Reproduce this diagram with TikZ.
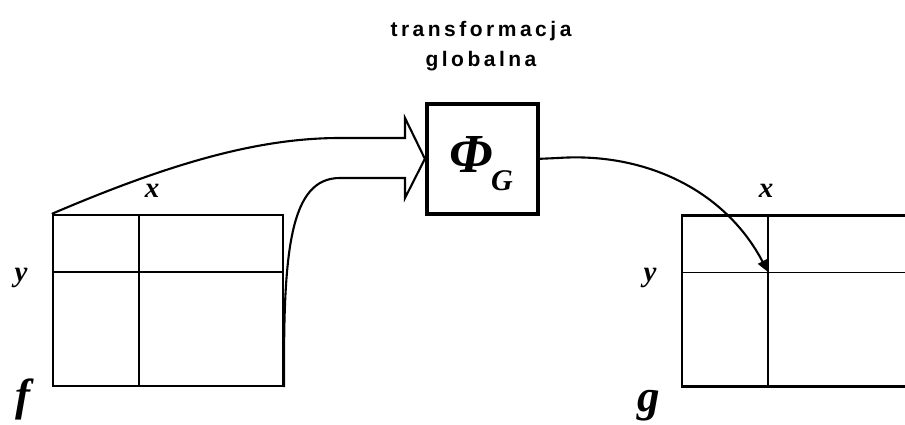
\documentclass[tikz,border=0pt]{standalone}
\usepackage{fontspec}
\newfontfamily\labfont{Liberation Serif}
\newfontfamily\titlefont[BoldFont={Liberation Sans Bold}]{Liberation Sans}
\newcommand\lsp{\hspace{3.5pt}}
\usetikzlibrary{arrows.meta}
\begin{document}
\begin{tikzpicture}[x=1pt,y=-1pt,
  gridbox/.style={draw,line width=2.3pt,rectangle,inner sep=0pt},
  phibox/.style={draw,line width=4.2pt,rectangle,inner sep=0pt,minimum width=111pt,minimum height=110pt},
  inner/.style={line width=1.5pt},
  conn/.style={line width=2.1pt},
  lab/.style={font=\labfont\bfseries\itshape\fontsize{29}{31}\selectfont,anchor=base,inner sep=0pt},
  biglab/.style={font=\labfont\bfseries\itshape\fontsize{45}{47}\selectfont,anchor=base,inner sep=0pt},
  ttl/.style={anchor=base,inner sep=0pt}]
\useasboundingbox (0,0) rectangle (905,425);
% left grid
\node[gridbox,minimum width=230pt,minimum height=171pt] (F) at (168,300.5) {};
\draw[inner] (139,215) -- (139,386);
\draw[inner] (53,272) -- (283,272);
% right grid (cut at right edge)
\draw[line width=2.3pt] (910,215.5) -- (682,215.5) -- (682,386.5) -- (910,386.5);
\coordinate (G) at (768,272);
\draw[inner] (768,215.5) -- (768,386.5);
\draw[inner] (682,272.5) -- (910,272.5);
% Phi box
\node[phibox] (P) at (482.5,158.8) {};
\node[font=\labfont\bfseries\itshape\fontsize{55}{57}\selectfont,anchor=base,inner sep=0pt] (phi) at (471,172) {Φ};
\node[lab,font=\labfont\bfseries\itshape\fontsize{30}{32}\selectfont] (sub) at (502,190) {G};
% title
\node[ttl] (t1) at (481,37) {\titlefont\bfseries\fontsize{21}{23}\selectfont t\lsp r\lsp a\lsp n\lsp s\lsp f\lsp o\lsp r\lsp m\lsp a\lsp c\lsp j\lsp a};
\node[ttl] (t2) at (481,67) {\titlefont\bfseries\fontsize{21}{23}\selectfont g\lsp l\lsp o\lsp b\lsp a\lsp l\lsp n\lsp a};
% labels
\node[lab] (xl) at (152,197) {x};
\node[lab] (yl) at (21,281) {y};
\node[biglab] (fl) at (23,410) {f};
\node[lab] (xr) at (766,197) {x};
\node[lab] (yr) at (650,281) {y};
\node[biglab] (gl) at (649,411) {g};
% block arrow into Phi
\coordinate (a1) at (340,138);
\coordinate (a2) at (340,178);
\draw[conn] (F.north west) .. controls (173,162) and (260,138) .. (a1);
\draw[conn] (F.south east) .. controls (283,250) and (290,178) .. (a2);
\draw[conn,line join=miter] (a1) -- (405,138) -- (405,118) -- (P.west) -- (405,198) -- (405,178) -- (a2);
% output arrow
\draw[conn,-{Triangle[length=12pt,width=10pt]}] (P.east) -- (558,158) .. controls (645,152) and (725,190) .. (G);
\end{tikzpicture}
\end{document}
